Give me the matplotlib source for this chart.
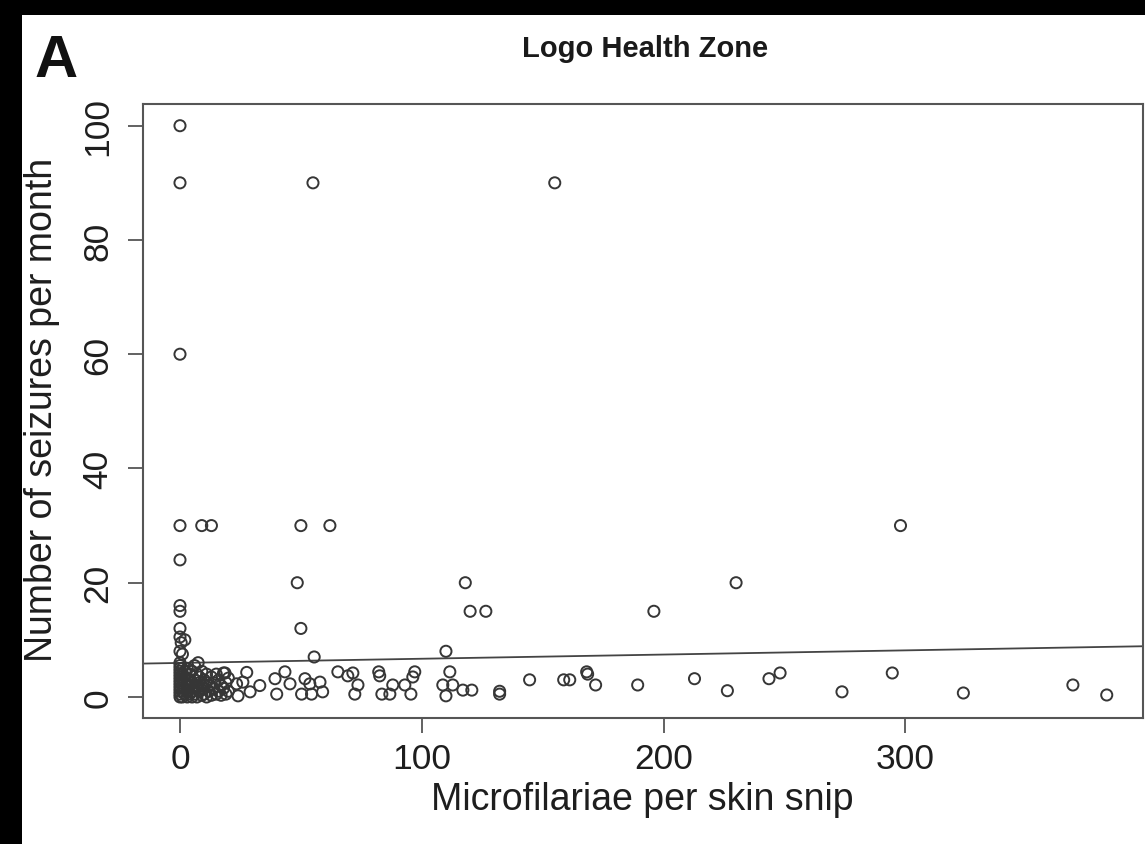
import numpy as np
import matplotlib.pyplot as plt
from matplotlib.patches import Rectangle

plt.rcParams['font.family'] = ['Liberation Sans', 'DejaVu Sans']

# Points with higher seizure counts
high_x = [0, 0, 55, 155, 0, 0, 9, 13, 50, 62, 298, 0, 48.5, 118, 230,
          0, 0, 120, 126.5, 196, 50, 0, 0, 2, 0.5, 0, 1, 55.5, 110, 7.5, 0]
high_y = [100, 90, 90, 90, 60, 30, 30, 30, 30, 30, 30, 24, 20, 20, 20,
          16, 15, 15, 15, 15, 12, 12, 10.5, 10, 9.5, 8, 7.5, 7, 8, 6, 6]

# Low counts, spread along the x axis
low_x = [18.6, 23.4, 24, 27.6, 26, 29, 33, 39.3, 43.4, 45.5, 40, 51.7, 53.7,
         57.9, 50.3, 54.4, 59, 65.3, 69.4, 71.5, 73.6, 72.3, 82.2, 82.6, 83.5,
         86.8, 88, 93, 95.5, 97.1, 96.3, 111.6, 108.7, 112.8, 110, 117, 120.7,
         132.2, 132.2, 144.6, 158.7, 161.2, 168.2, 168.6, 171.9, 189.3, 212.8,
         226.4, 243.6, 248.2, 273.8, 294.6, 324, 369.3, 383.3]
low_y = [4.2, 2.3, 0.2, 4.3, 2.6, 0.9, 2, 3.2, 4.4, 2.3, 0.5, 3.2, 2.3,
         2.6, 0.5, 0.5, 0.9, 4.4, 3.7, 4.2, 2.1, 0.5, 4.4, 3.7, 0.5,
         0.5, 2.1, 2.1, 0.5, 4.4, 3.5, 4.4, 2.1, 2.1, 0.2, 1.2, 1.2,
         1, 0.5, 3, 3, 3, 4.4, 4, 2.1, 2.1, 3.2,
         1.1, 3.2, 4.2, 0.9, 4.2, 0.7, 2.1, 0.35]

# Dense cluster close to zero microfilariae
cluster_x = [0, 0, 0, 0, 0, 0, 0, 0, 0, 0, 0, 0,
             1, 1, 1, 1, 1, 1, 2, 2, 2, 2, 2, 3, 3, 3, 3, 3,
             4, 4, 4, 4, 5, 5, 5, 5, 6, 6, 6, 6, 7, 7, 7,
             8, 8, 8, 9, 9, 9, 10, 10, 10, 11, 11, 11, 12, 12,
             13, 13, 14, 14, 15, 15, 16, 16, 17, 17, 18, 18, 19, 19, 20, 20]
cluster_y = [0, 0.5, 1, 1.5, 2, 2.5, 3, 3.5, 4, 4.5, 5, 5.5,
             0, 1, 2, 3, 4, 5, 0.5, 1.5, 2.5, 3.5, 4.5, 0, 1, 2, 3, 5,
             0.5, 2, 3, 4, 0, 1, 2.5, 4.5, 0.5, 1.5, 3, 5.5, 0, 2, 4,
             1, 2.5, 3.5, 0.3, 2, 4.5, 0.5, 1.5, 3, 0, 2.5, 4, 1, 2,
             0.3, 3.5, 1.5, 2.5, 0.5, 4, 1, 3, 0.3, 2, 1.5, 4.2, 0.5, 2.5, 1, 3.3]

# Fitted line
fit_intercept = 5.96
fit_slope = 0.00733

x_ticks = [0, 100, 200, 300]
y_ticks = [0, 20, 40, 60, 80, 100]

W, H = 1145, 845
fig = plt.figure(figsize=(W / 100, H / 100), dpi=100)
fig.patch.set_facecolor('black')
fig.patches.append(Rectangle((22 / W, 0), 1, 1 - 16 / H, transform=fig.transFigure,
                             facecolor='white', edgecolor='none', zorder=-10))

ax = fig.add_axes([143 / W, 1 - 719 / H, 1000 / W, 614 / H])
ax.set_facecolor('white')

all_x = high_x + low_x + cluster_x
all_y = high_y + low_y + cluster_y
ax.scatter(all_x, all_y, s=64, facecolors='none', edgecolors='#363636', linewidths=1.4,
           zorder=3)

xlim = (-15.3, 398.3)
xs = np.array(xlim)
ax.plot(xs, fit_intercept + fit_slope * xs, color='#444444', lw=1.3, zorder=2)

ax.set_xlim(*xlim)
ax.set_ylim(-3.68, 103.8)
ax.set_xticks(x_ticks)
ax.set_yticks(y_ticks)
for s in ax.spines.values():
    s.set_color('#555555')
    s.set_linewidth(1.5)
ax.tick_params(length=10.5, width=1.3, color='#555555', labelsize=25.5,
               labelcolor='#1e1e1e')
ax.tick_params(axis='x', pad=7)
ax.tick_params(axis='y', pad=10)
for lab in ax.get_yticklabels():
    lab.set_rotation(90)
    lab.set_va('center')

fig.text(642 / W, 1 - 800 / H, 'Microfilariae per skin snip', ha='center', va='center',
         fontsize=27, color='#1e1e1e')
fig.text(42 / W, 1 - 410 / H, 'Number of seizures per month', ha='center', va='center',
         rotation=90, fontsize=27, color='#1e1e1e')
fig.text(645 / W, 1 - 57 / H, 'Logo Health Zone', ha='center', va='baseline',
         fontsize=21, fontweight='bold', color='#1a1a1a')
fig.text(35 / W, 1 - 77 / H, 'A', ha='left', va='baseline',
         fontsize=43, fontweight='bold', color='#111111')

fig.savefig('out.png', dpi=100, facecolor=fig.get_facecolor())
